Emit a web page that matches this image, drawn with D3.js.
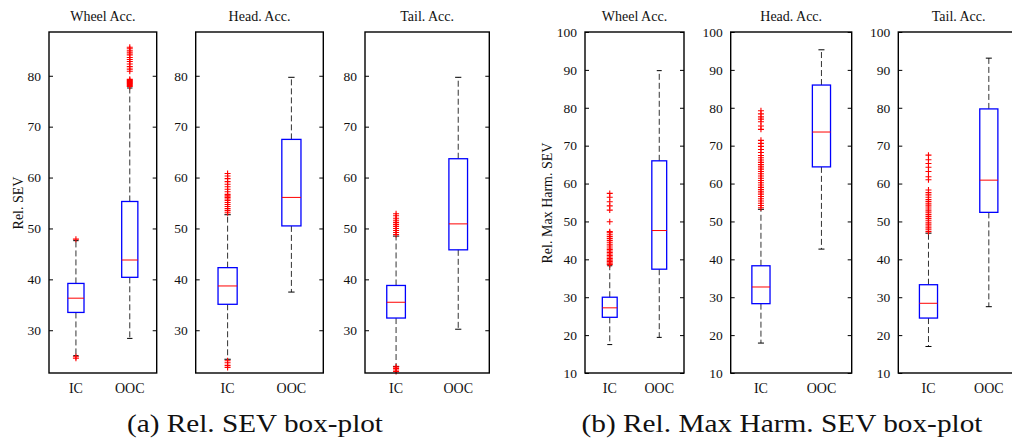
<!DOCTYPE html>
<html><head><meta charset="utf-8">
<script src="https://cdn.jsdelivr.net/npm/d3@7"></script>
<style>
html,body{margin:0;padding:0;background:#fff;overflow:hidden}
svg{display:block}
svg text{font-family:"Liberation Serif",Tinos,"Times New Roman",Times,"DejaVu Serif",serif !important;fill:#111}
</style></head><body>
<svg id="chart" width="1012" height="440"></svg>
<script>
// Groups and sensors
const groups = ["IC", "OOC"];
const sensors = ["Wheel Acc.", "Head. Acc.", "Tail. Acc."];

// Tick values for the two figure halves
const sevTicks = [30, 40, 50, 60, 70, 80];
const harmTicks = [10, 20, 30, 40, 50, 60, 70, 80, 90, 100];

// Five-number summaries per group: [lower whisker, Q1, median, Q3, upper whisker]
// (a) Rel. SEV
const sevWheel = [[25.0, 33.5, 36.3, 39.2, 47.6], [28.4, 40.4, 43.8, 55.3, 77.6]];
const sevHead  = [[24.3, 35.1, 38.7, 42.3, 52.7], [37.5, 50.5, 56.1, 67.5, 79.7]];
const sevTail  = [[22.9, 32.4, 35.5, 38.8, 48.5], [30.2, 45.8, 50.9, 63.7, 79.7]];
// (b) Rel. Max Harm. SEV
const harmWheel = [[17.5, 24.7, 27.2, 30.0, 38.3], [19.4, 37.4, 47.6, 66.0, 89.8]];
const harmHead  = [[17.9, 28.3, 32.7, 38.3, 53.2], [42.7, 64.4, 73.6, 86.0, 95.3]];
const harmTail  = [[17.0, 24.5, 28.4, 33.3, 46.9], [27.5, 52.4, 60.9, 79.7, 93.1]];

// Outliers per group: [IC, OOC]
const sevWheelOut = [
  [24.5, 24.8, 47.9],
  [77.9, 78.1, 78.3, 78.5, 78.7, 78.9, 79.1, 79.3, 80.9, 81.3, 81.8, 82.3, 82.8, 83.2, 83.6, 84.1, 84.5, 84.9, 85.3, 85.6]
];
const sevHeadOut = [
  [22.7, 23.1, 23.6, 24.0, 53.1, 53.5, 53.9, 54.3, 54.7, 55.1, 55.5, 55.8, 56.1, 56.4, 56.7, 57.2, 57.7, 58.2, 58.7, 59.2, 59.8, 60.3, 60.8],
  []
];
const sevTailOut = [
  [21.9, 22.2, 22.5, 22.8, 48.8, 49.2, 49.6, 50.0, 50.4, 50.8, 51.2, 51.6, 52.0, 52.5, 52.9],
  []
];
const harmWheelOut = [
  [38.6, 39.0, 39.4, 39.8, 40.2, 40.6, 41.0, 41.4, 41.8, 42.2, 42.6, 43.0, 43.5, 44.0, 44.5, 45.0, 45.5, 46.0, 46.5, 47.0, 47.3, 49.9, 53.0, 54.1, 55.2, 56.4, 57.4],
  []
];
const harmHeadOut = [
  [53.6, 54.2, 54.8, 55.4, 56.0, 56.6, 57.2, 57.8, 58.4, 59.0, 59.6, 60.2, 60.8, 61.4, 62.0, 62.6, 63.2, 63.8, 64.4, 65.0, 65.6, 66.2, 66.8, 67.4, 68.2, 69.0, 69.8, 70.6, 71.4, 74.3, 75.2, 76.3, 77.0, 77.6, 78.4, 79.2],
  []
];
const harmTailOut = [
  [47.3, 47.8, 48.3, 48.8, 49.3, 49.8, 50.3, 50.8, 51.3, 51.8, 52.3, 52.8, 53.3, 53.8, 54.3, 54.8, 55.3, 55.8, 56.4, 57.0, 57.6, 58.3, 61.0, 61.8, 63.2, 64.3, 65.3, 66.3, 67.5],
  []
];

const captions = ["(a) Rel. SEV box-plot", "(b) Rel. Max Harm. SEV box-plot"];
const yLabels = ["Rel. SEV", "Rel. Max Harm. SEV"];

// Layout of the six axes
const plotTop = 32, plotBottom = 373;
const panels = [
  {x0: 49,    x1: 156.7, title: sensors[0], stats: sevWheel,  out: sevWheelOut,  half: 0},
  {x0: 195.7, x1: 323.3, title: sensors[1], stats: sevHead,   out: sevHeadOut,   half: 0},
  {x0: 365,   x1: 489.3, title: sensors[2], stats: sevTail,   out: sevTailOut,   half: 0},
  {x0: 585,   x1: 684,   title: sensors[0], stats: harmWheel, out: harmWheelOut, half: 1},
  {x0: 730.7, x1: 851.7, title: sensors[1], stats: harmHead,  out: harmHeadOut,  half: 1},
  {x0: 898.3, x1: 1019,  title: sensors[2], stats: harmTail,  out: harmTailOut,  half: 1}
];
const halves = [
  {domain: [21.6, 88.6], ticks: sevTicks},
  {domain: [10, 100],    ticks: harmTicks}
];

const svg = d3.select("#chart");
const blue = "#0000ff", red = "#ff0000";

panels.forEach(p => {
  const h = halves[p.half];
  const y = d3.scaleLinear().domain(h.domain).range([plotBottom, plotTop]);
  const x = d3.scaleLinear().domain([0.5, 2.5]).range([p.x0, p.x1]);
  const g = svg.append("g");

  // tick marks inside on left and right, labels on the left
  const tickLen = 4;
  const lAxis = d3.axisLeft(y).tickValues(h.ticks).tickSizeInner(-tickLen).tickSizeOuter(0).tickPadding(tickLen + 4);
  const la = g.append("g").attr("transform", `translate(${p.x0},0)`).call(lAxis);
  la.attr("font-family", null);
  la.select(".domain").remove();
  la.selectAll("line").attr("stroke", "#000").attr("stroke-width", 1);
  la.selectAll("text").attr("font-size", 13.5).attr("fill", "#222");
  const rAxis = d3.axisRight(y).tickValues(h.ticks).tickSizeInner(-tickLen).tickSizeOuter(0).tickFormat("");
  const ra = g.append("g").attr("transform", `translate(${p.x1},0)`).call(rAxis);
  ra.select(".domain").remove();
  ra.selectAll("line").attr("stroke", "#000").attr("stroke-width", 1);

  // boxes
  const bw = 0.3, cw = 0.1;
  groups.forEach((grp, i) => {
    const s = p.stats[i];
    const cx = x(i + 1);
    const half = (x(1 + bw / 2) - x(1));
    const capHalf = (x(1 + cw / 2) - x(1));
    // whiskers
    g.append("line").attr("x1", cx).attr("x2", cx).attr("y1", y(s[3])).attr("y2", y(s[4]))
      .attr("stroke", "#333").attr("stroke-width", 1).attr("stroke-dasharray", "6,3");
    g.append("line").attr("x1", cx).attr("x2", cx).attr("y1", y(s[1])).attr("y2", y(s[0]))
      .attr("stroke", "#333").attr("stroke-width", 1).attr("stroke-dasharray", "6,3");
    [s[0], s[4]].forEach(v => {
      g.append("line").attr("x1", cx - capHalf).attr("x2", cx + capHalf).attr("y1", y(v)).attr("y2", y(v))
        .attr("stroke", "#000").attr("stroke-width", 1);
    });
    // box
    g.append("rect").attr("x", cx - half).attr("y", y(s[3])).attr("width", 2 * half).attr("height", y(s[1]) - y(s[3]))
      .attr("fill", "none").attr("stroke", blue).attr("stroke-width", 1.3);
    // median
    g.append("line").attr("x1", cx - half).attr("x2", cx + half).attr("y1", y(s[2])).attr("y2", y(s[2]))
      .attr("stroke", red).attr("stroke-width", 1);
    // outliers
    g.selectAll(null).data(p.out[i]).enter().append("path")
      .attr("d", d => `M${cx - 3},${y(d)}H${cx + 3}M${cx},${y(d) - 3}V${y(d) + 3}`)
      .attr("stroke", red).attr("stroke-width", 1.1).attr("fill", "none");
    // group label
    g.append("text").attr("x", cx).attr("y", 393).attr("text-anchor", "middle")
      .attr("font-size", 14).text(grp);
  });

  // frame
  g.append("rect").attr("x", p.x0).attr("y", plotTop).attr("width", p.x1 - p.x0).attr("height", plotBottom - plotTop)
    .attr("fill", "none").attr("stroke", "#000").attr("stroke-width", 1.4);

  // title
  g.append("text").attr("x", (p.x0 + p.x1) / 2).attr("y", 20.5).attr("text-anchor", "middle")
    .attr("font-size", 14).text(p.title);
});

// y-axis titles
[[22.7, 203, yLabels[0]], [551.7, 203, yLabels[1]]].forEach(([lx, ly, t]) => {
  svg.append("text").attr("transform", `translate(${lx},${ly}) rotate(-90)`)
    .attr("text-anchor", "middle").attr("font-size", 14).text(t);
});

// sub-figure captions
[[255, 256, captions[0]], [782, 401, captions[1]]].forEach(([cx, len, t]) => {
  svg.append("text").attr("x", cx).attr("y", 432).attr("text-anchor", "middle")
    .attr("font-size", 25).attr("textLength", len).attr("lengthAdjust", "spacingAndGlyphs")
    .attr("fill", "#111").text(t);
});
</script>
</body></html>
